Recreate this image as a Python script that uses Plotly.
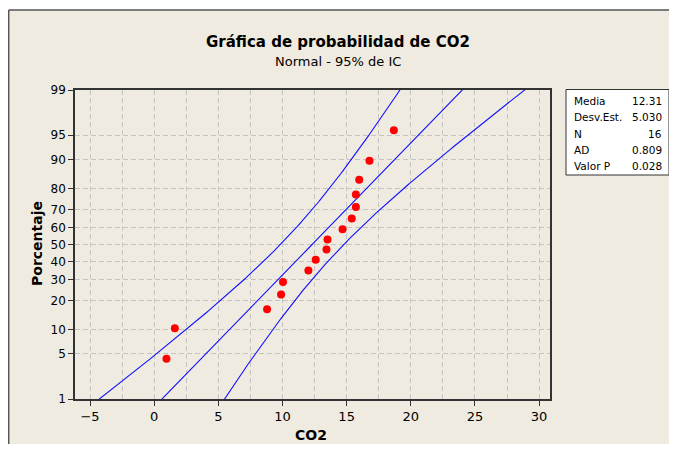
import plotly.graph_objects as go
from statistics import NormalDist

nd = NormalDist()

# ---- data ----
co2_values = [0.96, 1.61, 8.80, 9.89, 10.04, 12.02, 12.59, 13.43,
              13.51, 14.68, 15.40, 15.72, 15.72, 15.98, 16.78, 18.68]
pct_ticks = [1, 5, 10, 20, 30, 40, 50, 60, 70, 80, 90, 95, 99]
x_ticks = [-5, 0, 5, 10, 15, 20, 25, 30]
mean_co2 = 12.31
sd_co2 = 5.030
n_obs = 16
stat_names = ["Media", "Desv.Est.", "N", "AD", "Valor P"]
stat_values = ["12.31", "5.030", "16", "0.809", "0.028"]

FONT = "DejaVu Sans, sans-serif"

# plotting positions (Benard median ranks) -> normal scores
n = len(co2_values)
pts_z = [nd.inv_cdf((i + 1 - 0.3) / (n + 0.4)) for i in range(n)]

# fitted line and 95% confidence bands
zmax = nd.inv_cdf(0.99)
zgrid = [-2.8 + k * 0.02 for k in range(281)]
fit_x = [mean_co2 + z * sd_co2 for z in zgrid]
half = [1.96 * sd_co2 * (1 / n_obs + z * z / (2 * (n_obs - 1))) ** 0.5 for z in zgrid]
lo_x = [f - h for f, h in zip(fit_x, half)]
hi_x = [f + h for f, h in zip(fit_x, half)]

fig = go.Figure()
for xs in (lo_x, fit_x, hi_x):
    fig.add_trace(go.Scatter(x=xs, y=zgrid, mode="lines",
                             line=dict(color="#1010FF", width=1.1),
                             hoverinfo="skip", showlegend=False))
fig.add_trace(go.Scatter(x=co2_values, y=pts_z, mode="markers",
                         marker=dict(color="#FF0000", size=8),
                         showlegend=False))

OFF = 8  # page body margin
W, H = 677 - OFF, 456 - 2 * OFF - 4
L, R, T, B = 75 - OFF, 550 - OFF, 90 - OFF, 399 - OFF


def px(xp):  # page x -> paper
    return (xp - OFF - L) / (R - L)


def py(yp):  # page y -> paper
    return (B - (yp - OFF)) / (B - T)


fig.update_xaxes(range=[-6.17, 30.85], tickvals=x_ticks,
                 ticks="outside", ticklen=5, tickcolor="#333333",
                 showgrid=True, gridcolor="#C4C4C4", griddash="5px,3px",
                 minor=dict(dtick=2.5, tick0=0, showgrid=True, gridcolor="#C4C4C4",
                            griddash="5px,3px", ticks=""),
                 showline=True, linecolor="#333333", linewidth=1.5, mirror=True,
                 zeroline=False, tickfont=dict(family=FONT, size=13, color="black"))
fig.update_yaxes(range=[-zmax, zmax],
                 tickvals=[nd.inv_cdf(p / 100) for p in pct_ticks],
                 ticktext=[str(p) for p in pct_ticks],
                 ticks="outside", ticklen=5, tickcolor="#333333",
                 showgrid=True, gridcolor="#C4C4C4", griddash="5px,3px",
                 showline=True, linecolor="#333333", linewidth=1.5, mirror=True,
                 zeroline=False, tickfont=dict(family=FONT, size=12, color="black"))

shapes = [
    dict(type="rect", xref="paper", yref="paper",
         x0=px(8.7), x1=px(700), y0=py(470), y1=py(10),
         fillcolor="#EFEBE1", line=dict(width=0), layer="below"),
    dict(type="line", xref="paper", yref="paper",
         x0=px(8.7), x1=px(8.7), y0=py(470), y1=py(10),
         line=dict(color="#555555", width=1.5), layer="below"),
    dict(type="line", xref="paper", yref="paper",
         x0=px(8.7), x1=px(700), y0=py(10), y1=py(10),
         line=dict(color="#555555", width=1.5), layer="below"),
    dict(type="rect", xref="paper", yref="paper",
         x0=px(566), x1=px(669), y0=py(175), y1=py(89.5),
         fillcolor="white", line=dict(color="#333333", width=1)),
]

annotations = [
    dict(text="<b>Gráfica de probabilidad de CO2</b>", x=px(338), y=py(42),
         font=dict(family=FONT, size=15, color="black")),
    dict(text="Normal - 95% de IC", x=px(338), y=py(62),
         font=dict(family=FONT, size=13, color="black")),
    dict(text="<b>Porcentaje</b>", x=px(37), y=py(244), textangle=-90,
         font=dict(family=FONT, size=14, color="black")),
    dict(text="<b>CO2</b>", x=px(311), y=py(435),
         font=dict(family=FONT, size=14, color="black")),
]
for k, (nm, vl) in enumerate(zip(stat_names, stat_values)):
    yy = 100.7 + k * 16.4
    annotations.append(dict(text=nm, x=px(572), y=py(yy), xanchor="left",
                            font=dict(family=FONT, size=10.5, color="black")))
    annotations.append(dict(text=vl, x=px(664), y=py(yy), xanchor="right",
                            font=dict(family=FONT, size=10.5, color="black")))
for a in annotations:
    a.update(xref="paper", yref="paper", showarrow=False)
    a.setdefault("xanchor", "center")
    a.setdefault("yanchor", "middle")

fig.update_layout(width=W, height=H,
                  margin=dict(l=L, r=W - R, t=T, b=H - B),
                  paper_bgcolor="white", plot_bgcolor="white",
                  shapes=shapes, annotations=annotations,
                  font=dict(family=FONT))

fig.write_html("out.html")
